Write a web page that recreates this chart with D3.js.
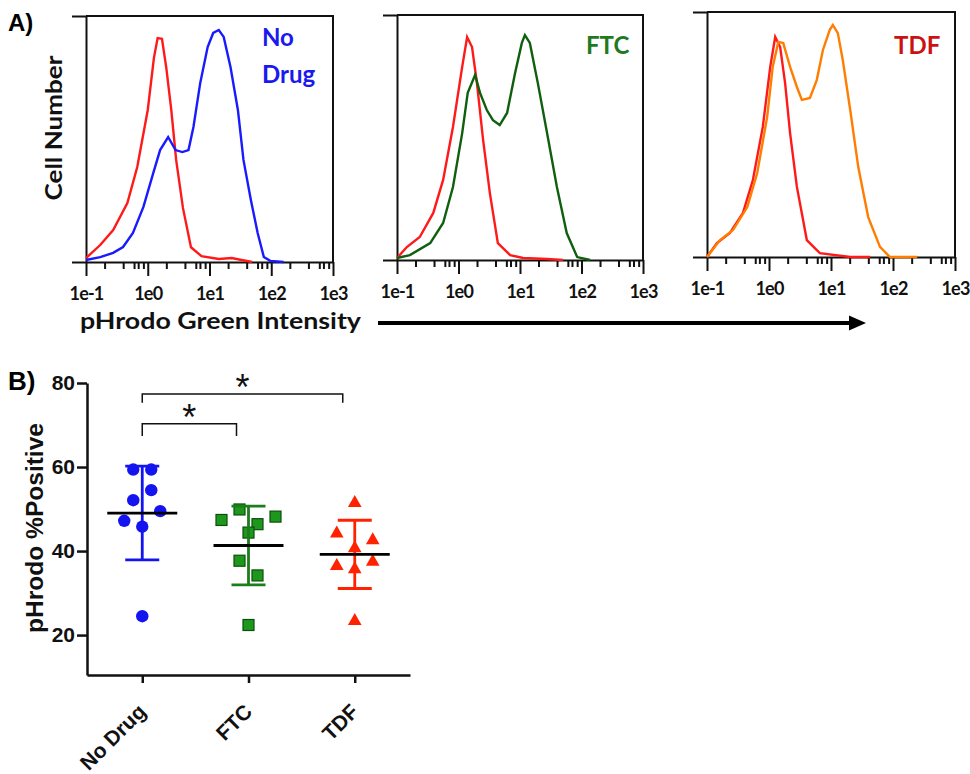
<!DOCTYPE html>
<html><head><meta charset="utf-8">
<script src="https://cdn.jsdelivr.net/npm/d3@7/dist/d3.min.js"></script>
<style>body{margin:0;background:#fff}svg{display:block}</style>
</head><body><svg id="c" width="970" height="774"></svg>
<script>
// ---------- DATA ----------
// Panel A: histogram curves as [log10(pHrodo intensity), cell count (% of max scale)]
const histTickValues = [0.1, 1, 10, 100, 1000];
const histTickLabels = ["1e-1", "1e0", "1e1", "1e2", "1e3"];
const minorMultipliers = [2, 4, 6, 7, 8.5];
const histLabels = ["No Drug", "FTC", "TDF"];

const h1Ctrl = [[-1.0,1.6],[-0.77,6.9],[-0.56,13],[-0.33,24],[-0.17,38.6],[0.0,61.8],[0.10,83],[0.16,91],[0.23,90.7],[0.30,79],[0.38,62],[0.46,41.5],[0.57,22],[0.70,6],[0.87,2.4],[1.15,1.2],[1.36,1.6],[1.52,0.8],[1.69,0]];
const h1Drug = [[-1.0,0.8],[-0.77,2.0],[-0.56,3.7],[-0.40,6.1],[-0.24,11.8],[-0.07,22.4],[0.09,36.2],[0.20,45.5],[0.33,50.8],[0.45,45.5],[0.56,44.7],[0.66,45.5],[0.74,54.9],[0.85,72.8],[0.97,87.4],[1.06,93.1],[1.15,94.3],[1.23,91.5],[1.34,79.3],[1.46,61.8],[1.55,41.5],[1.67,25.2],[1.78,11.8],[1.88,2.0],[1.99,0.4],[2.20,0]];
const h2Ctrl = [[-1.0,0.8],[-0.84,5.3],[-0.63,9.4],[-0.41,19.2],[-0.25,32.7],[-0.09,54.3],[0.06,78.8],[0.14,91.0],[0.22,86.9],[0.30,72.2],[0.40,49.0],[0.51,27.3],[0.64,6.9],[0.84,2.0],[1.05,0.8],[1.44,0.4],[1.70,0]];
const h2Drug = [[-1.0,0.8],[-0.79,2.0],[-0.46,6.9],[-0.25,15.1],[-0.09,29.8],[0.06,51.8],[0.15,68.2],[0.27,75.5],[0.35,68.2],[0.46,61.2],[0.56,57.1],[0.67,55.1],[0.79,60.0],[0.92,76.3],[1.03,88.6],[1.08,91.8],[1.16,88.6],[1.29,72.2],[1.44,51.8],[1.60,29.8],[1.76,11.0],[1.93,1.2],[2.14,0]];
const h3Ctrl = [[-1.0,0],[-0.84,5.7],[-0.63,9.8],[-0.42,18.0],[-0.26,31.4],[-0.10,53.1],[0.02,77.6],[0.10,89.8],[0.18,85.7],[0.26,71.0],[0.34,50.6],[0.45,28.6],[0.61,6.9],[0.82,1.6],[1.31,0],[1.63,0]];
const h3Drug = [[-1.0,0],[-0.79,6.9],[-0.58,11.0],[-0.35,20.4],[-0.19,34.3],[-0.03,57.1],[0.06,77.6],[0.15,87.8],[0.23,87.3],[0.34,77.6],[0.45,69.4],[0.53,64.1],[0.66,64.9],[0.77,72.2],[0.87,84.5],[0.98,92.7],[1.03,94.7],[1.11,91.4],[1.19,80.4],[1.31,60.0],[1.44,36.7],[1.60,16.3],[1.79,4.1],[1.95,0],[2.39,0]];

// Panel B: % positive per donor
const categories = ["No Drug", "FTC", "TDF"];
const noDrugValues = [59.4, 59.4, 52.1, 54.5, 47.2, 45.8, 49.5, 24.5];
const ftcValues = [47.4, 49.9, 46.4, 48.2, 44.4, 37.7, 34.2, 22.4];
const tdfValues = [51.7, 44.4, 40.9, 42.8, 36.7, 35.9, 37.7, 23.6];
const yTicksB = [20, 40, 60, 80];
const significance = [["No Drug", "FTC", "*"], ["No Drug", "TDF", "*"]];

// ---------- DRAW ----------
const svg = d3.select("#c");
const fontA = "Lato, 'Open Sans', sans-serif";
const fontB = "'Liberation Sans', Arial, Helvetica, sans-serif";

svg.append("text").attr("x", 8).attr("y", 31).text("A)")
  .attr("font-family", fontB).attr("font-weight", "bold").attr("font-size", 24);

const panels = [
  {x0: 86, x1: 333, top: 16, base: 262, ctrl: h1Ctrl, drug: h1Drug, color: "#1a1aff"},
  {x0: 397, x1: 643, top: 15, base: 260, ctrl: h2Ctrl, drug: h2Drug, color: "#0f5f0f"},
  {x0: 707, x1: 955, top: 12, base: 257, ctrl: h3Ctrl, drug: h3Drug, color: "#ff7d00"}
];
const minorTicks = [];
[0.1, 1, 10, 100].forEach(d => minorMultipliers.forEach(m => minorTicks.push(d * m)));

panels.forEach((p, i) => {
  const x = d3.scaleLog().domain([0.1, 1000]).range([p.x0, p.x1]);
  const y = d3.scaleLinear().domain([0, 100]).range([p.base, p.top]);
  const g = svg.append("g");
  const gm = g.append("g").attr("transform", `translate(0,${p.base})`)
    .call(d3.axisBottom(x).tickValues(minorTicks).tickSize(7).tickSizeOuter(0).tickFormat(""));
  gm.select(".domain").remove();
  gm.selectAll("line").attr("stroke", "#111").attr("stroke-width", 2);
  const gx = g.append("g").attr("transform", `translate(0,${p.base})`)
    .call(d3.axisBottom(x).tickValues(histTickValues).tickSize(14).tickSizeOuter(0).tickPadding(11)
      .tickFormat((d, k) => histTickLabels[k]));
  gx.select(".domain").attr("stroke", "#111").attr("stroke-width", 2);
  gx.selectAll("line").attr("stroke", "#111").attr("stroke-width", 2);
  gx.selectAll("text").attr("font-family", fontA).attr("font-weight", "bold").attr("font-size", 18)
    .attr("letter-spacing", "-0.8px").attr("fill", "#111");
  const gy = g.append("g").attr("transform", `translate(${p.x0},0)`)
    .call(d3.axisLeft(y).tickValues([0, 100]).tickSize(14).tickSizeOuter(0).tickFormat(""));
  gy.select(".domain").attr("stroke", "#111").attr("stroke-width", 2);
  gy.selectAll("line").attr("stroke", "#111").attr("stroke-width", 2);
  g.append("path").attr("d", `M${p.x0},${y(100)}H${p.x1}V${p.base}`)
    .attr("fill", "none").attr("stroke", "#111").attr("stroke-width", 2);
  const line = d3.line().x(d => x(Math.pow(10, d[0]))).y(d => y(d[1]));
  g.append("path").datum(p.ctrl).attr("d", line).attr("fill", "none")
    .attr("stroke", "#ff1a1a").attr("stroke-width", 2.4);
  g.append("path").datum(p.drug).attr("d", line).attr("fill", "none")
    .attr("stroke", p.color).attr("stroke-width", 2.4);
});

const lab = (t, x, yy, c) => svg.append("text").attr("x", x).attr("y", yy).text(t)
  .attr("font-family", fontA).attr("font-weight", "bold").attr("font-size", 24).attr("fill", c);
lab("No", 262, 46, "#1a1aef");
lab("Drug", 262, 83, "#1a1aef");
lab(histLabels[1], 586, 54, "#1f7a1f");
lab(histLabels[2], 894, 54, "#cc1111");

svg.append("text").attr("transform", "translate(62,128) rotate(-90)").attr("text-anchor", "middle")
  .text("Cell Number").attr("font-family", fontA).attr("font-weight", "bold").attr("font-size", 22)
  .attr("textLength", 145).attr("lengthAdjust", "spacingAndGlyphs").attr("fill", "#111");
svg.append("text").attr("x", 80).attr("y", 329).text("pHrodo Green Intensity")
  .attr("font-family", fontA).attr("font-weight", "bold").attr("font-size", 23)
  .attr("textLength", 281).attr("lengthAdjust", "spacingAndGlyphs").attr("fill", "#111");
svg.append("line").attr("x1", 378).attr("x2", 853).attr("y1", 323).attr("y2", 323)
  .attr("stroke", "#000").attr("stroke-width", 4);
svg.append("path").attr("d", "M849,315.5L866,323L849,330.5Z").attr("fill", "#000");

// ---------- Panel B ----------
svg.append("text").attr("x", 8).attr("y", 390).text("B)")
  .attr("font-family", fontB).attr("font-weight", "bold").attr("font-size", 26);

const xB = d3.scalePoint().domain(categories).range([87, 410]).padding(0.52);
const yB = d3.scaleLinear().domain([10.5, 80]).range([675, 383]);

const gyB = svg.append("g").attr("transform", "translate(87,0)")
  .call(d3.axisLeft(yB).tickValues(yTicksB).tickSize(10).tickSizeOuter(0).tickPadding(2));
gyB.select(".domain").attr("stroke", "#111").attr("stroke-width", 2.5);
gyB.selectAll("line").attr("stroke", "#111").attr("stroke-width", 2.5);
gyB.selectAll("text").attr("font-family", fontB).attr("font-weight", "bold").attr("font-size", 21).attr("fill", "#111");

const gxB = svg.append("g").attr("transform", "translate(0,675)")
  .call(d3.axisBottom(xB).tickSize(8).tickSizeOuter(0).tickFormat(""));
gxB.select(".domain").attr("stroke", "#111").attr("stroke-width", 2.5);
gxB.selectAll("line").attr("stroke", "#111").attr("stroke-width", 2.5);
categories.forEach(c => {
  svg.append("text").attr("transform", `translate(${xB(c) + 5},${713}) rotate(-45)`)
    .attr("text-anchor", "end").text(c)
    .attr("font-family", fontB).attr("font-weight", "bold").attr("font-size", 21).attr("fill", "#111");
});

svg.append("text").attr("transform", "translate(43,528) rotate(-90)").attr("text-anchor", "middle")
  .text("pHrodo %Positive").attr("font-family", fontB).attr("font-weight", "bold").attr("font-size", 23)
  .attr("textLength", 210).attr("lengthAdjust", "spacingAndGlyphs").attr("fill", "#111");

// jitter layout: group close values in rows, spread each row symmetrically
function layout(values, step) {
  const idx = values.map((v, i) => i).sort((a, b) => values[b] - values[a]);
  const rows = [];
  idx.forEach(i => {
    const r = rows[rows.length - 1];
    if (r && values[r[0]] - values[i] <= 4) r.push(i); else rows.push([i]);
  });
  const off = new Array(values.length).fill(0);
  rows.forEach(r => {
    r.sort((a, b) => a - b);
    r.forEach((i, k) => off[i] = (k - (r.length - 1) / 2) * step);
  });
  return off;
}

const groups = [
  {cat: "No Drug", vals: noDrugValues, fill: "#1414f0", stroke: "#1414f0", bar: "#1414f0", shape: "circle"},
  {cat: "FTC", vals: ftcValues, fill: "#1d981d", stroke: "#0c4f0c", bar: "#1b7d1b", shape: "square"},
  {cat: "TDF", vals: tdfValues, fill: "#ff2200", stroke: "#ff2200", bar: "#ff2200", shape: "triangle"}
];
groups.forEach(gr => {
  const cx = xB(gr.cat);
  const m = d3.mean(gr.vals), sd = d3.deviation(gr.vals);
  const g = svg.append("g");
  const off = layout(gr.vals, 18);
  gr.vals.forEach((v, i) => {
    const px = cx + off[i], py = yB(v);
    if (gr.shape === "circle") g.append("circle").attr("cx", px).attr("cy", py).attr("r", 6.2).attr("fill", gr.fill);
    else if (gr.shape === "square") g.append("rect").attr("x", px - 5.5).attr("y", py - 5.5).attr("width", 11).attr("height", 11)
      .attr("fill", gr.fill).attr("stroke", gr.stroke).attr("stroke-width", 1.2);
    else g.append("path").attr("d", `M${px},${py - 7}L${px + 6.8},${py + 5}L${px - 6.8},${py + 5}Z`).attr("fill", gr.fill);
  });
  g.append("path").attr("d", `M${cx},${yB(m + sd)}V${yB(m - sd)}M${cx - 17},${yB(m + sd)}H${cx + 17}M${cx - 17},${yB(m - sd)}H${cx + 17}`)
    .attr("stroke", gr.bar).attr("stroke-width", 2.8).attr("fill", "none");
  g.append("line").attr("x1", cx - 35).attr("x2", cx + 35).attr("y1", yB(m)).attr("y2", yB(m))
    .attr("stroke", "#000").attr("stroke-width", 2.8);
});

// significance brackets
const bracketLevels = [[70.3, 67.4], [77.4, 75.3]];
significance.forEach((s, i) => {
  const xa = xB(s[0]), xb = xB(s[1]) - 12;
  const [top, leg] = bracketLevels[i];
  svg.append("path").attr("d", `M${xa},${yB(leg)}V${yB(top)}H${xb}V${yB(leg)}`)
    .attr("fill", "none").attr("stroke", "#111").attr("stroke-width", 1.5);
  svg.append("text").attr("x", (xa + xb) / 2).attr("y", yB(top) + 6).attr("text-anchor", "middle")
    .text(s[2]).attr("font-family", fontB).attr("font-size", 36).attr("fill", "#111");
});
</script></body></html>
